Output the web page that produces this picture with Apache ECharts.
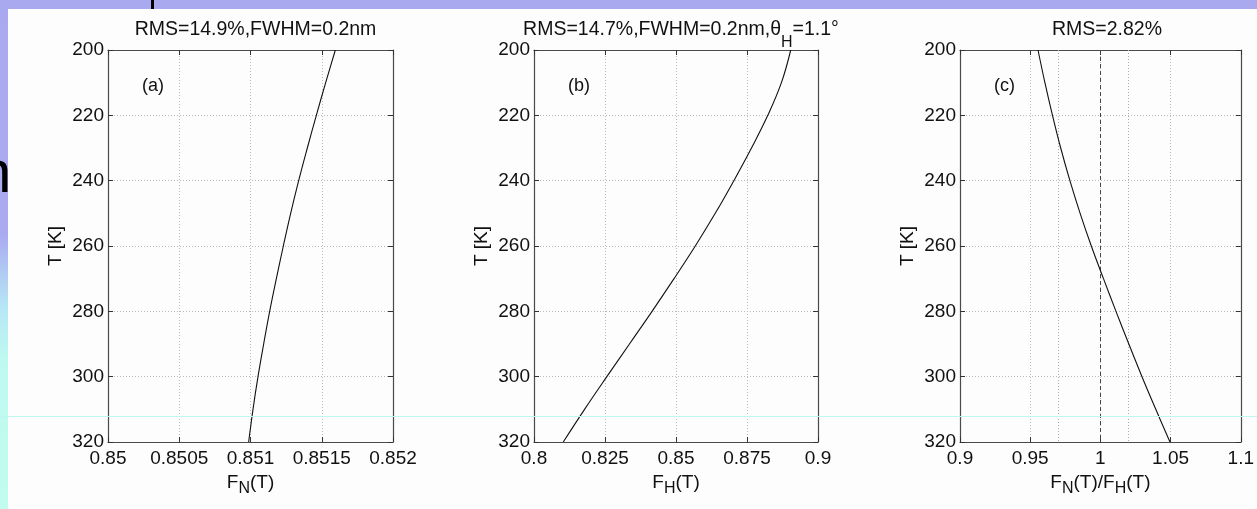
<!DOCTYPE html>
<html>
<head>
<meta charset="utf-8">
<script src="https://cdn.jsdelivr.net/npm/echarts@6/dist/echarts.min.js"></script>
<style>
html,body{margin:0;padding:0;width:1257px;height:509px;overflow:hidden;}
body{position:relative;background:linear-gradient(to bottom,#a9a9ef 0%,#aaaaf0 46%,#b6e6f6 60%,#bef8f0 70%,#c2fcee 100%);}
#paper{position:absolute;left:8px;top:9px;right:0;bottom:0;background:#fdfdfd;}
#topband{position:absolute;left:0;top:0;width:1257px;height:9px;background:#a9a9ef;}
#bar{position:absolute;left:151px;top:0;width:3px;height:9px;background:#000;}
#nglyph{position:absolute;left:-22px;top:142px;font-family:"Liberation Sans",Arial,sans-serif;font-size:60px;color:#000;line-height:60px;}
#chart{position:absolute;left:0;top:0;width:1257px;height:509px;}
#cyan{position:absolute;left:0;top:416px;width:1257px;height:1px;background:#bff6ee;}
</style>
</head>
<body>
<div id="nglyph">n</div>
<div id="topband"></div>
<div id="bar"></div>
<div id="paper"></div>
<div id="chart"></div>
<div id="cyan"></div>
<script>
// ---- data ----
const temps = [200, 210, 220, 230, 240, 250, 260, 270, 280, 290, 300, 310, 320];
const fN = [0.8515953, 0.8515275, 0.8514620, 0.8513988, 0.8513380, 0.8512819, 0.8512304, 0.8511813, 0.8511345, 0.8510924, 0.8510526, 0.8510176, 0.8509871];
const fH = [0.89040, 0.88712, 0.88232, 0.87658, 0.87037, 0.86382, 0.85679, 0.84930, 0.84157, 0.83361, 0.82564, 0.81780, 0.81030];
const ratio = [0.95556, 0.96048, 0.96587, 0.97173, 0.97829, 0.98556, 0.99353, 1.00220, 1.01111, 1.02025, 1.02963, 1.03947, 1.04955];
const ratioMean = [0.9963];
const ratioBand = [0.9684, 1.0247];
const titlesText = ['{a|RMS=14.9%,FWHM=0.2nm}', '{a|RMS=14.7%,FWHM=0.2nm,θ}{t|H}{a|=1.1°}', '{a|RMS=2.82%}'];
const panelTags = ['(a)', '(b)', '(c)'];
const xNames = ['{a|F}{s|N}{a|(T)}', '{a|F}{s|H}{a|(T)}', '{a|F}{s|N}{a|(T)/F}{s|H}{a|(T)}'];
const xRanges = [[0.85, 0.852, 0.0005], [0.8, 0.9, 0.025], [0.9, 1.1, 0.05]];
const yRange = [200, 320, 20];
const yName = 'T [K]';

// ---- layout ----
const FONT = '"Liberation Sans", Arial, Helvetica, sans-serif';
const grids = [
  {left: 108, top: 50, width: 285, height: 392},
  {left: 534, top: 50, width: 284, height: 392},
  {left: 960, top: 50, width: 284, height: 392}
];
function mkRich(size, subSize, shiftS, shiftT) {
  return {
    a: {fontFamily: FONT, fontSize: size, fontWeight: 'normal', color: '#111', lineHeight: 22, verticalAlign: 'top'},
    s: {fontFamily: FONT, fontSize: subSize, fontWeight: 'normal', color: '#111', lineHeight: 22, verticalAlign: 'top', padding: [shiftS, 0, 0, 0]},
    t: {fontFamily: FONT, fontSize: subSize, fontWeight: 'normal', color: '#111', lineHeight: 22, verticalAlign: 'top', padding: [shiftT, 0, 0, 0]}
  };
}
const titleRich = mkRich(19.5, 16, 7, 15);
const nameRich = mkRich(19, 16, 8, 8);
const axisLine = {show: true, lineStyle: {color: '#4a4a4a', width: 1.2}};
const tick = {show: true, inside: true, length: 5, lineStyle: {color: '#333', width: 1}};

const xAxes = [], yAxes = [], series = [], titles = [];
function xFmt(v) { return String(+v.toFixed(5)); }
grids.forEach((g, i) => {
  const [mn, mx, iv] = xRanges[i];
  xAxes.push({
    type: 'value', gridIndex: i, position: 'bottom', min: mn, max: mx, interval: iv,
    name: xNames[i], nameLocation: 'middle', nameGap: 20,
    nameTextStyle: {rich: nameRich},
    axisLine: axisLine, axisTick: tick,
    axisLabel: {fontFamily: FONT, fontSize: 19, color: '#111', margin: 7, formatter: xFmt},
    splitLine: {show: true, lineStyle: {color: '#bbb', type: [1, 2], width: 1}}
  });
  xAxes.push({
    type: 'value', gridIndex: i, position: 'top', min: mn, max: mx, interval: iv,
    axisLine: axisLine, axisTick: tick, axisLabel: {show: false}, splitLine: {show: false}
  });
  yAxes.push({
    type: 'value', gridIndex: i, position: 'left', inverse: true,
    min: yRange[0], max: yRange[1], interval: yRange[2],
    name: yName, nameLocation: 'middle', nameGap: 43,
    nameTextStyle: {fontFamily: FONT, fontSize: 19, color: '#111'},
    axisLine: axisLine, axisTick: tick,
    axisLabel: {fontFamily: FONT, fontSize: 19, color: '#111', margin: 4},
    splitLine: {show: true, lineStyle: {color: '#bbb', type: [1, 2], width: 1}}
  });
  yAxes.push({
    type: 'value', gridIndex: i, position: 'right', inverse: true,
    min: yRange[0], max: yRange[1], interval: yRange[2],
    axisLine: axisLine, axisTick: tick, axisLabel: {show: false}, splitLine: {show: false}
  });
  titles.push({
    text: titlesText[i], left: g.left + g.width / 2, top: 15, textAlign: 'center',
    textStyle: {rich: titleRich, fontWeight: 'normal'}
  });
  titles.push({
    text: panelTags[i], left: g.left + 29, top: 72,
    textStyle: {fontFamily: FONT, fontSize: 18, fontWeight: 'normal', color: '#111'}
  });
});

const xs = [fN, fH, ratio];
xs.forEach((arr, i) => {
  const s = {
    type: 'line', xAxisIndex: i * 2, yAxisIndex: i * 2,
    data: arr.map((v, k) => [v, temps[k]]),
    smooth: 0.4, showSymbol: false, symbol: 'none',
    lineStyle: {color: '#111', width: 1.1}, silent: true, z: 5
  };
  if (i === 2) {
    s.markLine = {
      silent: true, symbol: 'none', label: {show: false},
      data: [
        {xAxis: ratioMean[0], lineStyle: {color: '#444', type: [4, 3], width: 1}},
        {xAxis: ratioBand[0], lineStyle: {color: '#aaa', type: [1, 2], width: 1}},
        {xAxis: ratioBand[1], lineStyle: {color: '#aaa', type: [1, 2], width: 1}}
      ]
    };
  }
  series.push(s);
});

const chart = echarts.init(document.getElementById('chart'), null, {renderer: 'canvas'});
chart.setOption({
  backgroundColor: 'transparent',
  animation: false,
  title: titles,
  grid: grids,
  xAxis: xAxes,
  yAxis: yAxes,
  series: series
});
</script>
</body>
</html>
